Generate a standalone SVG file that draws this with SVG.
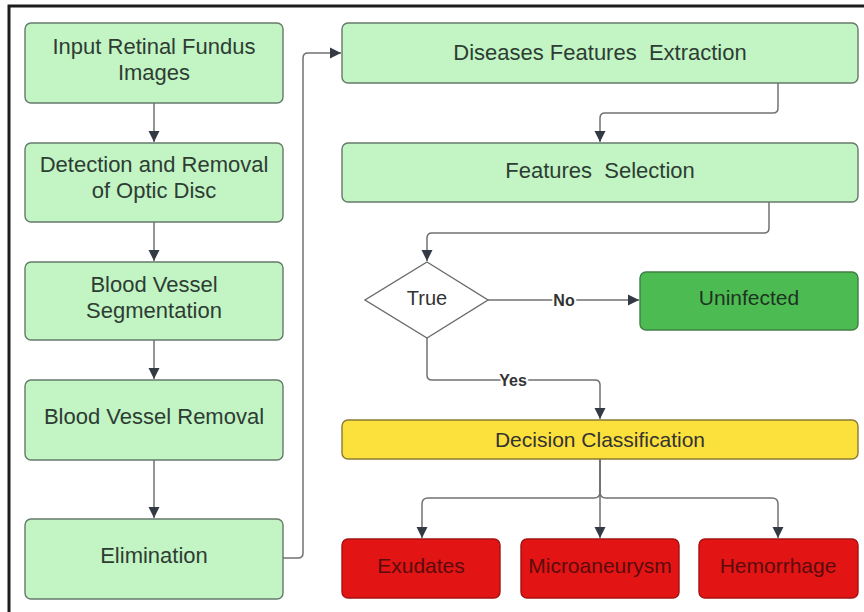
<svg xmlns="http://www.w3.org/2000/svg" width="864" height="612" viewBox="0 0 864 612">
<defs>
<style>
.box{stroke-width:1.4}
.g{fill:#c2f4c4;stroke:#667a69}
.u{fill:#4cbc52;stroke:#3f7f43}
.y{fill:#fce03c;stroke:#8a7b33}
.r{fill:#e21414;stroke:#a41212}
.d{fill:#ffffff;stroke:#6a6a6a}
text{font-family:"Liberation Sans",Arial,sans-serif;font-size:21px;text-anchor:middle}
.gt{fill:#2e3d33;font-size:22px}
.rt{fill:#5a0c0c}
.lbl{font-size:16px;font-weight:bold;fill:#333;stroke:#fff;stroke-width:4px;paint-order:stroke;stroke-linejoin:round}
.c{fill:none;stroke:#717171;stroke-width:1.5}
</style>
<marker id="ah" markerUnits="userSpaceOnUse" markerWidth="12" markerHeight="12" viewBox="0 0 12 12" refX="11" refY="6" orient="auto">
<path d="M0,0.5 L11,6 L0,11.5 Z" fill="#343a44"/>
</marker>
</defs>
<rect width="864" height="612" fill="#ffffff"/>
<path d="M9,612 V6 H864" fill="none" stroke="#1c1c1c" stroke-width="3"/>

<g id="connectors">
<path class="c" d="M154,103 V142" marker-end="url(#ah)"/>
<path class="c" d="M154,222 V261" marker-end="url(#ah)"/>
<path class="c" d="M154,340 V379" marker-end="url(#ah)"/>
<path class="c" d="M154,460 V518" marker-end="url(#ah)"/>
<path class="c" d="M283,558 H298 Q303,558 303,553 V58 Q303,53 308,53 H341" marker-end="url(#ah)"/>
<path class="c" d="M778,83 V108 Q778,113 773,113 H605 Q600,113 600,118 V142" marker-end="url(#ah)"/>
<path class="c" d="M769,202 V228 Q769,233 764,233 H432 Q427,233 427,238 V261" marker-end="url(#ah)"/>
<path class="c" d="M488,300 H639" marker-end="url(#ah)"/>
<path class="c" d="M427,338 V375 Q427,380 432,380 H595 Q600,380 600,385 V419" marker-end="url(#ah)"/>
<path class="c" d="M600,459 V492 Q600,498 594,498 H428 Q422,498 422,504 V538" marker-end="url(#ah)"/>
<path class="c" d="M600,459 V538" marker-end="url(#ah)"/>
<path class="c" d="M600,459 V492 Q600,498 606,498 H772 Q778,498 778,504 V538" marker-end="url(#ah)"/>
<text class="lbl" x="564" y="306">No</text>
<text class="lbl" x="513" y="386">Yes</text>
</g>

<g id="input">
<rect class="box g" x="25" y="23" width="258" height="80" rx="6"/>
<text class="gt" x="154" y="54">Input Retinal Fundus</text>
<text class="gt" x="154" y="80">Images</text>
</g>
<g id="optic">
<rect class="box g" x="25" y="143" width="258" height="79" rx="6"/>
<text class="gt" x="154" y="172">Detection and Removal</text>
<text class="gt" x="154" y="198">of Optic Disc</text>
</g>
<g id="segmentation">
<rect class="box g" x="25" y="262" width="258" height="78" rx="6"/>
<text class="gt" x="154" y="292">Blood Vessel</text>
<text class="gt" x="154" y="318">Segmentation</text>
</g>
<g id="removal">
<rect class="box g" x="25" y="380" width="258" height="80" rx="6"/>
<text class="gt" x="154" y="424">Blood Vessel Removal</text>
</g>
<g id="elimination">
<rect class="box g" x="25" y="519" width="258" height="80" rx="6"/>
<text class="gt" x="154" y="563">Elimination</text>
</g>
<g id="extraction">
<rect class="box g" x="342" y="23" width="516" height="60" rx="6"/>
<text class="gt" x="600" y="60" xml:space="preserve">Diseases Features  Extraction</text>
</g>
<g id="selection">
<rect class="box g" x="342" y="143" width="516" height="59" rx="6"/>
<text class="gt" x="600" y="178" xml:space="preserve">Features  Selection</text>
</g>
<g id="decision">
<polygon class="box d" points="427,262 488,300 427,338 365,300"/>
<text x="427" y="305" style="fill:#333;font-size:20px">True</text>
</g>
<g id="uninfected">
<rect class="box u" x="640" y="272" width="218" height="58" rx="6"/>
<text x="749" y="305" style="fill:#1f3322">Uninfected</text>
</g>
<g id="classification">
<rect class="box y" x="342" y="420" width="516" height="39" rx="6"/>
<text x="600" y="447" style="fill:#333">Decision Classification</text>
</g>
<g id="exudates">
<rect class="box r" x="342" y="539" width="158" height="59" rx="6"/>
<text class="rt" x="421" y="573">Exudates</text>
</g>
<g id="microaneurysm">
<rect class="box r" x="521" y="539" width="158" height="59" rx="6"/>
<text class="rt" x="600" y="573">Microaneurysm</text>
</g>
<g id="hemorrhage">
<rect class="box r" x="699" y="539" width="159" height="59" rx="6"/>
<text class="rt" x="778" y="573">Hemorrhage</text>
</g>
</svg>
